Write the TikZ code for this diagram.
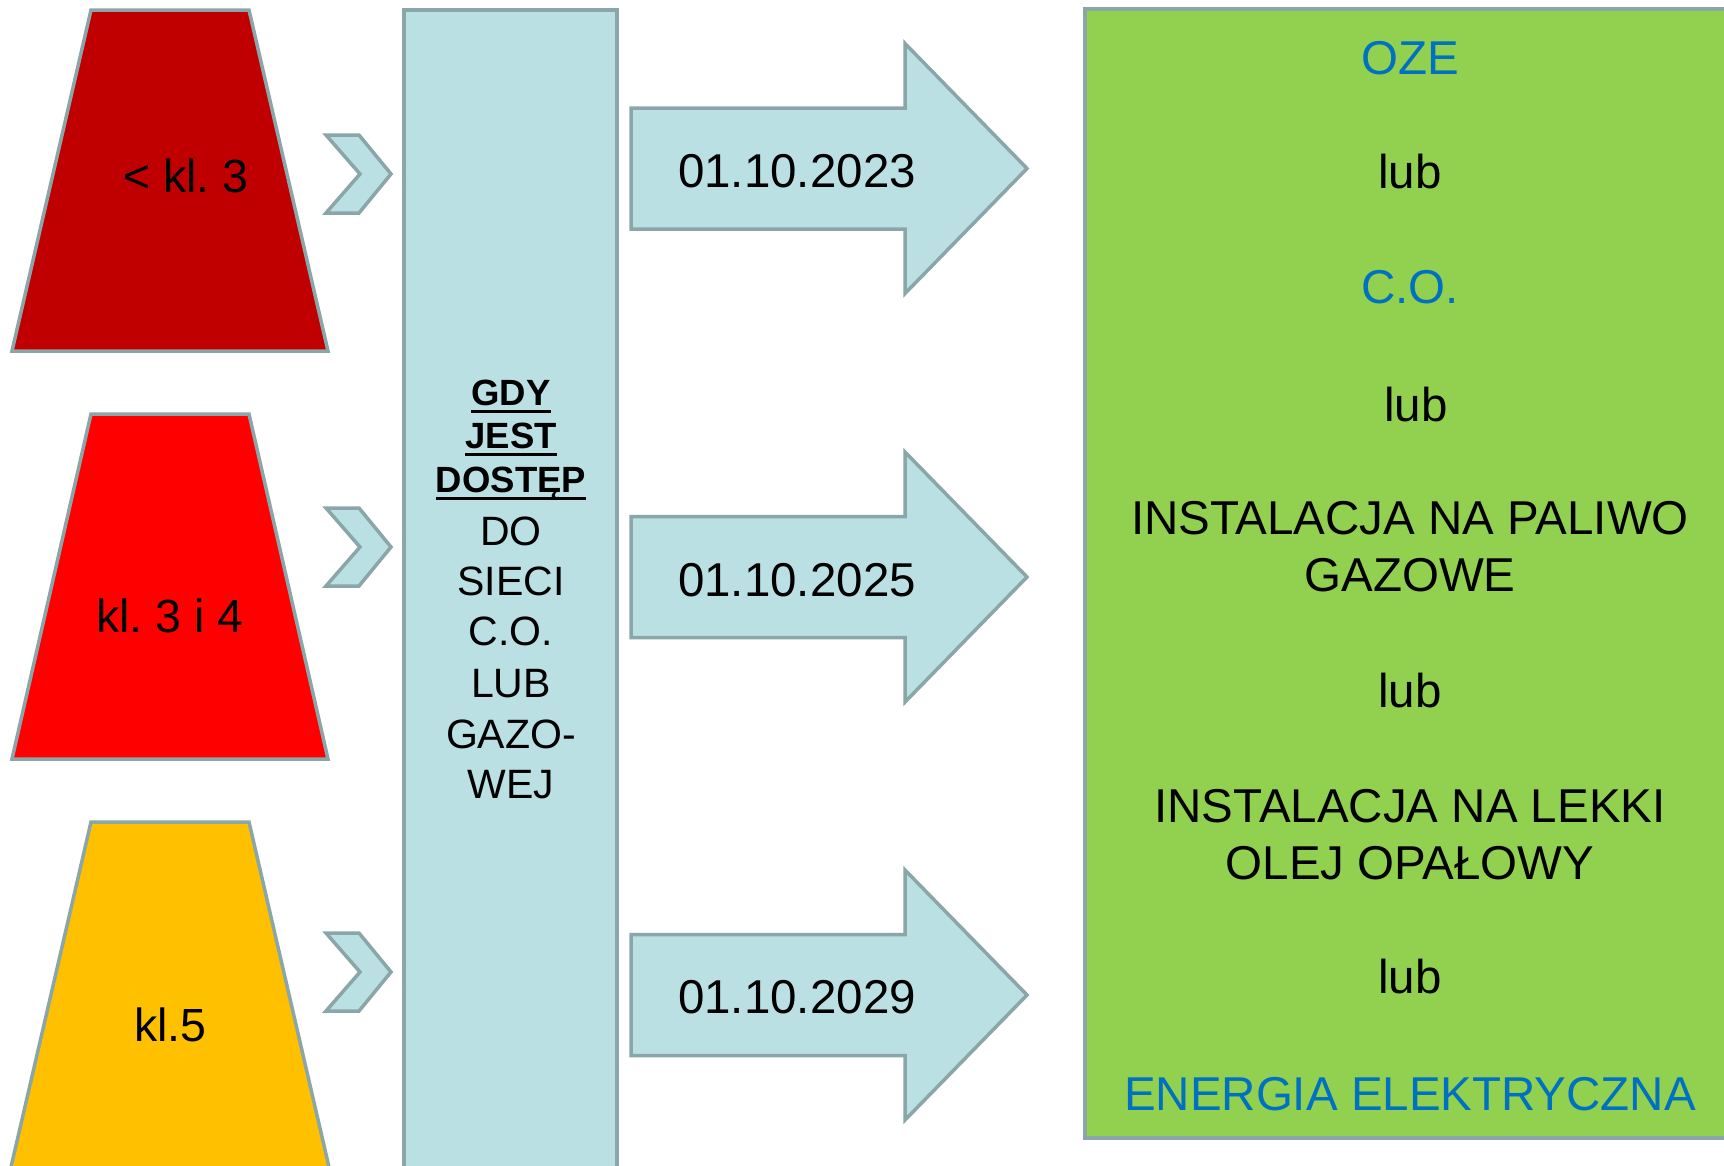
\documentclass[tikz,border=0pt]{standalone}
\usepackage{fontspec}
\setmainfont{Liberation Sans}
\frenchspacing
\definecolor{edgec}{RGB}{139,166,169}
\definecolor{lightb}{RGB}{187,224,227}
\definecolor{darkred}{RGB}{192,0,0}
\definecolor{brightred}{RGB}{255,0,0}
\definecolor{amber}{RGB}{255,192,0}
\definecolor{leaf}{RGB}{146,208,80}
\definecolor{textblue}{RGB}{0,112,192}
\newcommand\myul[1]{\setbox0\hbox{#1}\rlap{\rule[-7.5pt]{\wd0}{2.6pt}}\box0}
\begin{document}
\begin{tikzpicture}[x=1pt,y=-1pt,line join=miter,
  shapeline/.style={draw=edgec,line width=3.5pt},
  traplbl/.style={font=\fontsize{46.5}{56}\selectfont,anchor=base,inner sep=0pt},
  colbold/.style={font=\fontsize{36.5}{44}\selectfont\bfseries,anchor=base,inner sep=0pt},
  colreg/.style={font=\fontsize{41}{50}\selectfont,anchor=base,inner sep=0pt},
  datelbl/.style={font=\fontsize{47.5}{57}\selectfont,anchor=base,inner sep=0pt},
  optlbl/.style={font=\fontsize{47.5}{57}\selectfont,anchor=base,inner sep=0pt},
  optblue/.style={optlbl,text=textblue},
  chev/.pic={\path[shapeline,fill=lightb] (-33,-39) -- (0,-39) -- (32,0) -- (0,39) -- (-33,39) -- (1,0) -- cycle;},
  bigarrow/.pic={\path[shapeline,fill=lightb] (0,-60.5) -- (274,-60.5) -- (274,-125) -- (396,0) -- (274,125) -- (274,60.5) -- (0,60.5) -- cycle;}
]
\useasboundingbox (0,0) rectangle (1724,1165);
\clip (0,0) rectangle (1724,1165);
\fill[white] (0,0) rectangle (1724,1165);

% trapezoids
\path[shapeline,fill=darkred] (91,10) -- (249,10) -- (328,351) -- (12,351) -- cycle;
\path[shapeline,fill=brightred] (91,414) -- (249,414) -- (328,759) -- (12,759) -- cycle;
\path[shapeline,fill=amber] (91,822) -- (249,822) -- (332,1180) -- (8,1180) -- cycle;
\node[traplbl] (k1) at (186,192) {< kl. 3};
\node[traplbl] (k2) at (170,632.5) {kl. 3 i 4};
\node[traplbl] (k3) at (170.5,1041.5) {kl.5};

% chevrons
\pic at (359,174) {chev};
\pic at (359,547) {chev};
\pic at (359,972) {chev};

% column
\path[shapeline,fill=lightb] (404,10) rectangle (617,1190);
\node[colbold] (c1) at (511,405) {\myul{GDY}};
\node[colbold] (c2) at (511,448) {\myul{JEST}};
\node[colbold] (c3) at (511,492) {\myul{DOSTĘP}};
\node[colreg] (c4) at (511,545) {DO};
\node[colreg] (c5) at (511,595) {SIECI};
\node[colreg] (c6) at (511,645) {C.O.};
\node[colreg] (c7) at (511,697) {LUB};
\node[colreg] (c8) at (511,748) {GAZO-};
\node[colreg] (c9) at (511,798) {WEJ};

% arrows
\pic at (631,168.5) {bigarrow};
\pic at (631,577) {bigarrow};
\pic at (631,995) {bigarrow};
\node[datelbl] (d1) at (797,187) {01.10.2023};
\node[datelbl] (d2) at (797,596) {01.10.2025};
\node[datelbl] (d3) at (797,1013) {01.10.2029};

% green box
\path[shapeline,fill=leaf] (1085,9) rectangle (1745,1138);
\node[optblue] (g1) at (1410,74) {OZE};
\node[optlbl] (g2) at (1410,188) {lub};
\node[optblue] (g3) at (1410,303) {C.O.};
\node[optlbl] (g4) at (1416,421) {lub};
\node[optlbl] (g5) at (1410,534) {INSTALACJA NA PALIWO};
\node[optlbl] (g6) at (1410,591) {GAZOWE};
\node[optlbl] (g7) at (1410,707) {lub};
\node[optlbl] (g8) at (1410,822) {INSTALACJA NA LEKKI};
\node[optlbl] (g9) at (1410,879) {OLEJ OPAŁOWY};
\node[optlbl] (g10) at (1410,993) {lub};
\node[optblue] (g11) at (1410,1110) {ENERGIA ELEKTRYCZNA};
\end{tikzpicture}
\end{document}
